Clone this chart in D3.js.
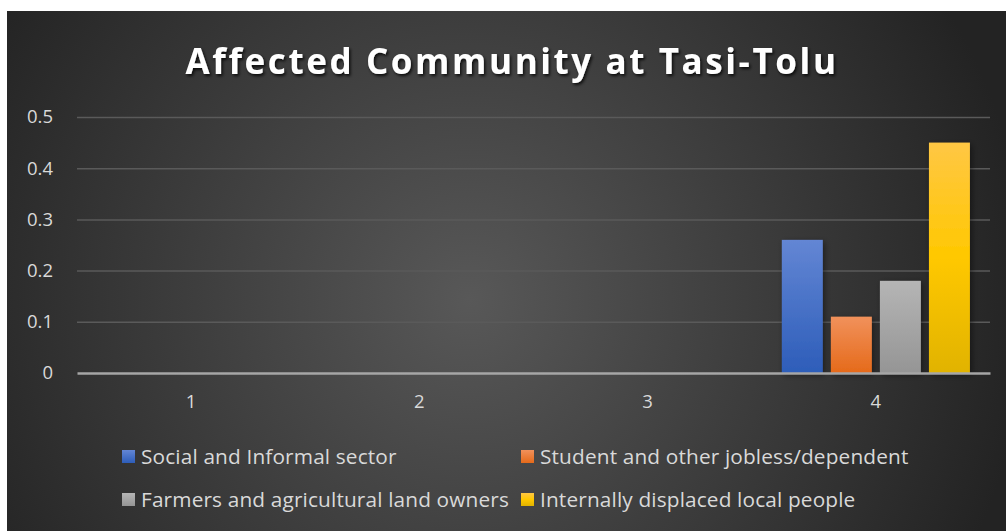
<!DOCTYPE html>
<html><head><meta charset="utf-8">
<script src="https://cdn.jsdelivr.net/npm/d3@7"></script>
<style>
html,body{margin:0;padding:0;background:#fff;}
svg{display:block;}
</style></head>
<body>
<script>
const categories = ["1","2","3","4"];
const seriesNames = ["Social and Informal sector","Student and other jobless/dependent","Farmers and agricultural land owners","Internally displaced local people"];
const socialInformal = [0,0,0,0.26];
const studentJobless = [0,0,0,0.11];
const farmers = [0,0,0,0.18];
const displaced = [0,0,0,0.45];
const yTicks = [0,0.1,0.2,0.3,0.4,0.5];
const title = "Affected Community at Tasi-Tolu";

const seriesValues = [socialInformal, studentJobless, farmers, displaced];
const colors = [
  ["#6386d4","#2d5db9"],
  ["#f1915b","#e56a1a"],
  ["#b5b5b5","#959595"],
  ["#ffc744","#e1b300"]
];

const W = 1006, H = 531;
const svg = d3.select("body").append("svg").attr("width", W).attr("height", H);
const defs = svg.append("defs");

const bg = defs.append("radialGradient").attr("id","bg")
  .attr("gradientUnits","userSpaceOnUse").attr("cx",470).attr("cy",300).attr("r",560);
bg.append("stop").attr("offset","0%").attr("stop-color","#585858");
bg.append("stop").attr("offset","100%").attr("stop-color","#232323");

colors.forEach((c,i)=>{
  const g = defs.append("linearGradient").attr("id","g"+i).attr("x1",0).attr("y1",0).attr("x2",0).attr("y2",1);
  if(i===3){
    g.append("stop").attr("offset","0%").attr("stop-color","#ffc744");
    g.append("stop").attr("offset","50%").attr("stop-color","#ffc800");
    g.append("stop").attr("offset","100%").attr("stop-color","#e1b300");
  } else {
    g.append("stop").attr("offset","0%").attr("stop-color",c[0]);
    g.append("stop").attr("offset","100%").attr("stop-color",c[1]);
  }
});
const sh = defs.append("filter").attr("id","sh").attr("x","-20%").attr("y","-20%").attr("width","140%").attr("height","140%");
sh.append("feDropShadow").attr("dx",2).attr("dy",2).attr("stdDeviation",3).attr("flood-color","#000").attr("flood-opacity",0.45);
const tsh = defs.append("filter").attr("id","tsh").attr("x","-10%").attr("y","-30%").attr("width","120%").attr("height","160%");
tsh.append("feDropShadow").attr("dx",1.5).attr("dy",2).attr("stdDeviation",1.5).attr("flood-color","#000").attr("flood-opacity",0.8);

svg.append("rect").attr("x",7).attr("y",11).attr("width",W-7).attr("height",H-11).attr("fill","url(#bg)");

const plot = {left:77, right:990, top:117, bottom:373};
const y = d3.scaleLinear().domain([0,0.5]).range([plot.bottom, plot.top]);
const x0 = d3.scaleBand().domain(categories).range([plot.left, plot.right]).padding(0);
const bw = x0.bandwidth();
const x1 = d3.scaleBand().domain(d3.range(seriesNames.length)).range([bw*0.088, bw*0.912]).paddingInner(0.165);

// gridlines
const grid = svg.append("g").attr("class","grid")
  .call(d3.axisLeft(y).tickValues(yTicks.filter(d=>d>0)).tickSize(-(plot.right-plot.left)).tickFormat(""))
  .attr("transform",`translate(${plot.left},0)`);
grid.select(".domain").remove();
grid.selectAll("line").attr("stroke","#5a5a5a").attr("stroke-width",1.5);

// y labels
const yAx = svg.append("g").attr("transform",`translate(${plot.left},0)`)
  .call(d3.axisLeft(y).tickValues(yTicks).tickSize(0).tickPadding(24).tickFormat(d=>d===0?"0":d3.format(".1f")(d)));
yAx.select(".domain").remove();
yAx.selectAll("text").attr("fill","#d9d9d9").style("font-family","'Open Sans', sans-serif").style("font-size","18.5px");

// bars
const groups = svg.append("g").selectAll("g").data(categories).join("g")
  .attr("transform",d=>`translate(${x0(d)},0)`);
groups.selectAll("rect").data((d,ci)=>seriesValues.map((s,si)=>({si, v:s[ci]})).filter(o=>o.v>0)).join("rect")
  .attr("x",o=>x1(o.si)).attr("width",x1.bandwidth())
  .attr("y",o=>y(o.v)).attr("height",o=>y(0)-y(o.v))
  .attr("fill",o=>`url(#g${o.si})`).attr("filter","url(#sh)");

// baseline / x axis
const xAx = svg.append("g").attr("transform",`translate(0,${plot.bottom})`)
  .call(d3.axisBottom(x0).tickSize(0).tickPadding(22));
xAx.select(".domain").attr("stroke","#a6a6a6").attr("stroke-width",2.5);
xAx.selectAll("text").attr("fill","#d9d9d9").style("font-family","'Open Sans', sans-serif").style("font-size","18.5px");

// title
svg.append("text").attr("x",512).attr("y",74).attr("text-anchor","middle")
  .attr("fill","#ffffff").attr("filter","url(#tsh)")
  .style("font-family","'Open Sans', sans-serif").style("font-weight","700").style("font-size","35px").style("letter-spacing","2.6px")
  .text(title);

// legend
const legPos = [[122,457],[521,457],[122,500],[521,500]];
const leg = svg.append("g").selectAll("g").data(seriesNames).join("g")
  .attr("transform",(d,i)=>`translate(${legPos[i][0]},${legPos[i][1]})`);
leg.append("rect").attr("x",0).attr("y",-7).attr("width",13).attr("height",13).attr("fill",(d,i)=>`url(#g${i})`);
leg.append("text").attr("x",19).attr("y",0).attr("dy","0.35em").attr("fill","#d9d9d9")
  .style("font-family","'Open Sans', sans-serif").style("font-size","20.8px").style("letter-spacing","0.15px").text(d=>d);
</script>
</body></html>
